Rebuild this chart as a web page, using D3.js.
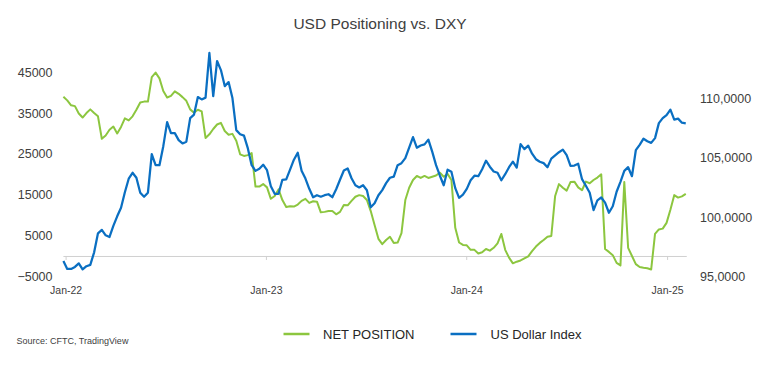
<!DOCTYPE html>
<html>
<head>
<meta charset="utf-8">
<script src="https://cdn.jsdelivr.net/npm/d3@7"></script>
<style>
  html, body { margin: 0; padding: 0; background: #ffffff; }
  svg { display: block; font-family: "Liberation Sans", Arial, sans-serif; }
</style>
</head>
<body>
<svg id="chart" width="777" height="365"></svg>
<script>
// ---- Data (weekly, first observation 2021-12-28) ----
const firstWeek = "2021-12-28";
const netPosition = [
  39000,38100,36900,36700,34900,33900,35000,35900,35000,34200,
  28700,29500,30900,31700,30000,31600,33700,33200,34200,35800,
  37600,37800,37800,43800,44900,43500,40400,38800,39200,40300,
  39700,38900,38000,35900,35100,35800,35400,28900,29800,31100,
  32200,32600,30600,29700,29900,28200,24900,24500,24700,25200,
  17000,17000,17600,16800,14000,14700,16300,13700,12000,12200,
  12100,12600,13500,14000,13000,13400,13300,10700,10800,11000,
  11000,10200,10800,12500,12400,13500,14500,14900,14700,13700,
  11000,7600,4200,2900,3900,4700,3200,3300,5600,13700,
  16700,18600,19600,19100,19600,19100,19400,19700,20400,19400,
  20100,18600,6900,3300,2700,2600,1500,1500,600,900,
  1700,1300,2000,3100,5400,1500,-400,-1800,-1400,-1100,
  -600,-100,1200,2300,3200,3900,4700,4900,14700,17600,
  16700,16000,18100,18200,16800,16100,18200,17800,18600,19200,
  20000,1700,1000,200,-1700,-2300,18100,2000,0,-2000,
  -2700,-2900,-3000,-3300,5400,6500,6700,8100,11300,14900,
  14300,14600,15200
];
const dollarIndex = [
  96.29,95.63,95.63,95.80,96.10,95.59,95.86,95.97,97.03,98.63,
  98.92,98.46,98.32,99.26,100.06,100.78,102.09,103.23,103.73,103.31,
  102.05,101.71,102.05,105.30,104.37,104.37,105.97,108.00,107.07,107.07,
  106.48,106.20,106.35,108.33,108.63,110.11,109.91,110.06,113.82,110.19,
  113.14,112.38,111.03,111.37,110.02,107.32,106.98,106.86,105.80,104.37,
  103.89,104.07,104.41,103.95,102.59,101.96,101.96,103.14,103.17,104.00,
  104.83,105.42,103.90,103.24,102.38,101.67,101.84,101.71,101.84,101.92,
  101.67,102.34,103.14,103.92,104.09,103.27,102.68,102.49,102.68,102.26,
  100.82,101.16,101.84,102.27,102.86,103.31,103.40,104.37,104.54,104.96,
  105.84,106.73,105.84,106.03,106.12,106.52,105.51,104.37,103.48,102.68,
  103.99,103.82,102.43,101.62,101.88,102.37,103.10,103.48,103.44,104.03,
  104.75,104.24,103.84,103.73,103.10,103.61,104.20,104.66,104.16,106.14,
  105.72,106.01,105.34,104.87,104.66,104.54,104.20,104.92,105.19,105.46,
  105.68,105.21,104.32,104.34,104.49,103.19,102.64,102.05,100.59,101.41,
  101.65,101.22,100.36,100.91,102.13,102.97,103.89,104.20,103.44,105.63,
  106.08,106.60,106.39,106.25,106.65,107.91,108.33,108.59,109.05,108.21,
  108.29,107.95,107.89
];
const leftTicks = [-5000, 5000, 15000, 25000, 35000, 45000];
const rightTicks = [95, 100, 105, 110];
const rightTickLabels = ["95,0000", "100,0000", "105,0000", "110,0000"];
const xTicks = ["2022-01-01", "2023-01-01", "2024-01-01", "2025-01-01"];
const xTickLabels = ["Jan-22", "Jan-23", "Jan-24", "Jan-25"];
const seriesNames = ["NET POSITION", "US Dollar Index"];
const titleText = "USD Positioning vs. DXY";
const sourceText = "Source: CFTC, TradingView";

// ---- Build ----
const GREEN = "#8cc63f", BLUE = "#0a6fc2", TEXT = "#404040";
const parse = d3.utcParse("%Y-%m-%d");
const start = parse(firstWeek);
const dates = netPosition.map((_, i) => d3.utcDay.offset(start, 7 * i));
const rows = dates.map((d, i) => ({ date: d, net: netPosition[i], dxy: dollarIndex[i] }));

const svg = d3.select("#chart");
svg.append("rect").attr("width", 777).attr("height", 365).attr("fill", "#fff");

const x = d3.scaleUtc().domain([parse(xTicks[0]), parse(xTicks[3])]).range([65.6, 667.1]);
const yL = d3.scaleLinear().domain([-5000, 50000]).range([276.4, 51.8]);
const yR = d3.scaleLinear().domain([95, 113.92]).range([276.4, 51.8]);

// title
svg.append("text").attr("x", 380).attr("y", 29).attr("text-anchor", "middle")
  .attr("font-size", 15.5).attr("fill", TEXT).text(titleText);

// x axis at zero
const xAxis = d3.axisBottom(x)
  .tickValues(xTicks.map(parse))
  .tickFormat((d, i) => xTickLabels[i])
  .tickSize(4).tickSizeOuter(0).tickPadding(27);
const gx = svg.append("g").attr("transform", `translate(0,${yL(0)})`).call(xAxis);
gx.select(".domain").attr("stroke", "#d0d0d0").attr("d", `M${x(dates[0])},0.5H${x(dates[dates.length-1]) + 1}`);
gx.selectAll(".tick line").attr("stroke", "#d0d0d0");
gx.selectAll(".tick text").attr("fill", TEXT).attr("font-size", 10.5)
  .attr("font-family", "Liberation Sans, Arial, sans-serif");

// left axis
const gl = svg.append("g").attr("transform", "translate(52.5,0)")
  .call(d3.axisLeft(yL).tickValues(leftTicks).tickFormat(d3.format("d")).tickSize(0).tickPadding(0));
gl.select(".domain").remove();
gl.selectAll(".tick text").attr("fill", TEXT).attr("font-size", 12.5)
  .attr("font-family", "Liberation Sans, Arial, sans-serif");

// right axis
const gr = svg.append("g").attr("transform", "translate(700,0)")
  .call(d3.axisRight(yR).tickValues(rightTicks).tickFormat((d, i) => rightTickLabels[i]).tickSize(0).tickPadding(0));
gr.select(".domain").remove();
gr.selectAll(".tick text").attr("fill", TEXT).attr("font-size", 12.5)
  .attr("font-family", "Liberation Sans, Arial, sans-serif");

// lines
const lineNet = d3.line().x(d => x(d.date)).y(d => yL(d.net));
const lineDxy = d3.line().x(d => x(d.date)).y(d => yR(d.dxy));
svg.append("path").datum(rows).attr("d", lineNet).attr("fill", "none")
  .attr("stroke", GREEN).attr("stroke-width", 2).attr("stroke-linejoin", "round");
svg.append("path").datum(rows).attr("d", lineDxy).attr("fill", "none")
  .attr("stroke", BLUE).attr("stroke-width", 2.25).attr("stroke-linejoin", "round");

// legend
const legend = [
  { name: seriesNames[0], color: GREEN, x0: 283.5, tx: 323 },
  { name: seriesNames[1], color: BLUE, x0: 450.5, tx: 490.5 }
];
const lg = svg.append("g");
legend.forEach(l => {
  lg.append("line").attr("x1", l.x0).attr("x2", l.x0 + 26).attr("y1", 334).attr("y2", 334)
    .attr("stroke", l.color).attr("stroke-width", 2.5);
  lg.append("text").attr("x", l.tx).attr("y", 334).attr("dy", "0.35em")
    .attr("font-size", 13).attr("fill", "#262626").text(l.name);
});

// source
svg.append("text").attr("x", 16.5).attr("y", 341).attr("dy", "0.35em")
  .attr("font-size", 9).attr("fill", TEXT).text(sourceText);
</script>
</body>
</html>
